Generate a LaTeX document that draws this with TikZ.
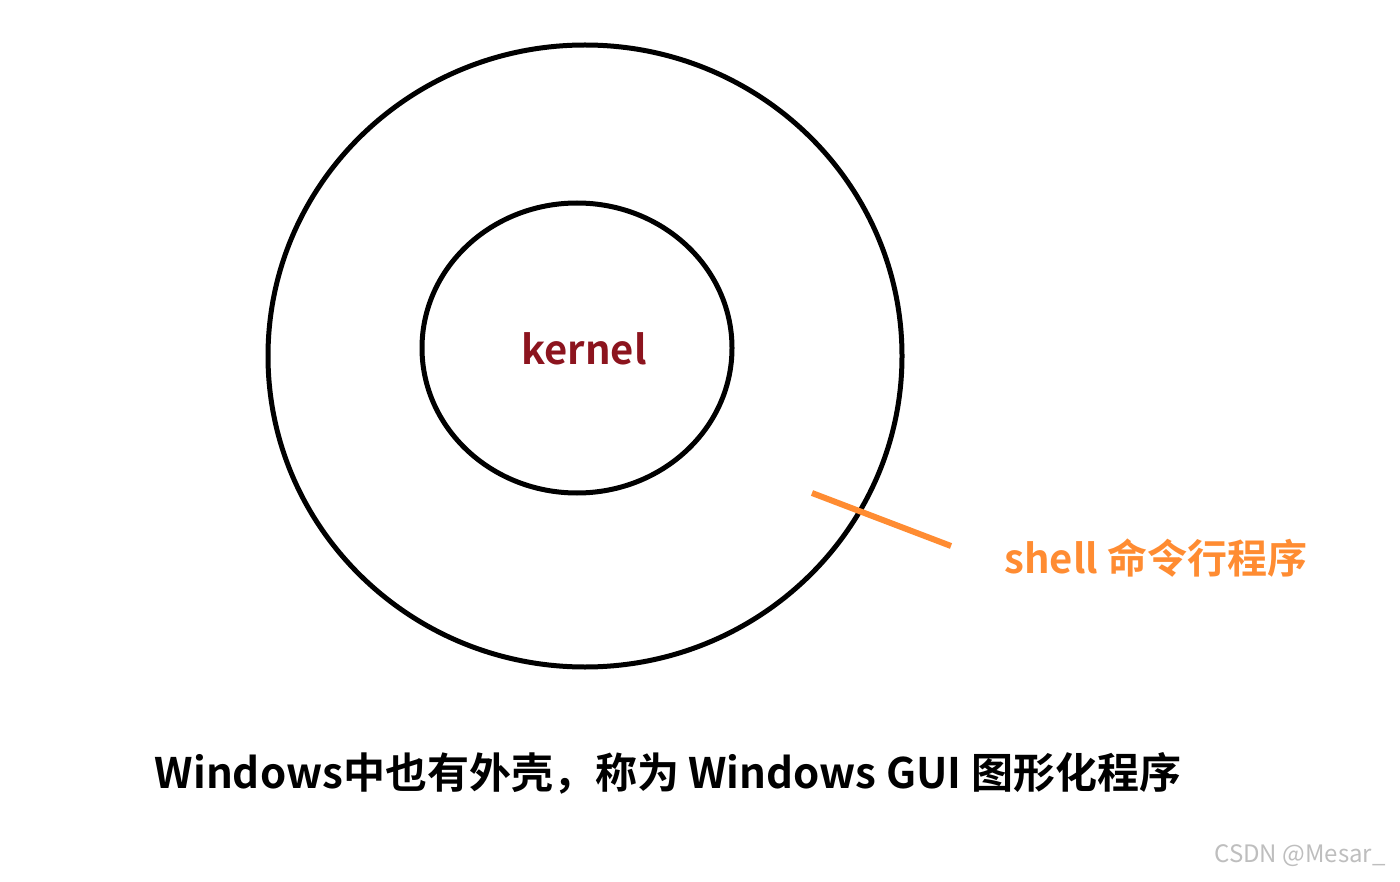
\documentclass[tikz,border=0pt]{standalone}
\usepackage{fontspec}
\setmainfont{Noto Sans CJK SC}
\newfontfamily\cjkb{Noto Sans CJK SC}[BoldFont={* Bold}]
\begin{document}
\begin{tikzpicture}[x=1pt,y=-1pt,
  ring/.style={draw=black,line width=5pt},
  lbl/.style={font=\cjkb\bfseries,inner sep=0pt}]
\useasboundingbox[fill=white] (0,0) rectangle (1400,882);
\draw[ring] (585,356) ellipse [x radius=317, y radius=311];
\draw[ring] (577,348) ellipse [x radius=155, y radius=145];
\node[lbl,text={rgb,255:red,140;green,20;blue,30},font=\cjkb\bfseries\fontsize{40}{44}\selectfont] (k) at (584,349) {kernel};
\coordinate (a) at (812,493);
\coordinate (b) at (951,546);
\draw[line width=6pt,color={rgb,255:red,255;green,140;blue,50}] (a) -- (b);
\node[lbl,text={rgb,255:red,255;green,140;blue,50},font=\cjkb\bfseries\fontsize{40}{44}\selectfont] (s) at (1156,558) {shell 命令行程序};
\node[lbl,font=\cjkb\bfseries\fontsize{42}{46}\selectfont] (t) at (668,773) {Windows中也有外壳，称为 Windows GUI 图形化程序};
\node[inner sep=0pt,text={rgb,255:red,190;green,190;blue,190},font=\fontsize{24}{28}\selectfont] (w) at (1300,856) {CSDN @Mesar\_};
\end{tikzpicture}
\end{document}
